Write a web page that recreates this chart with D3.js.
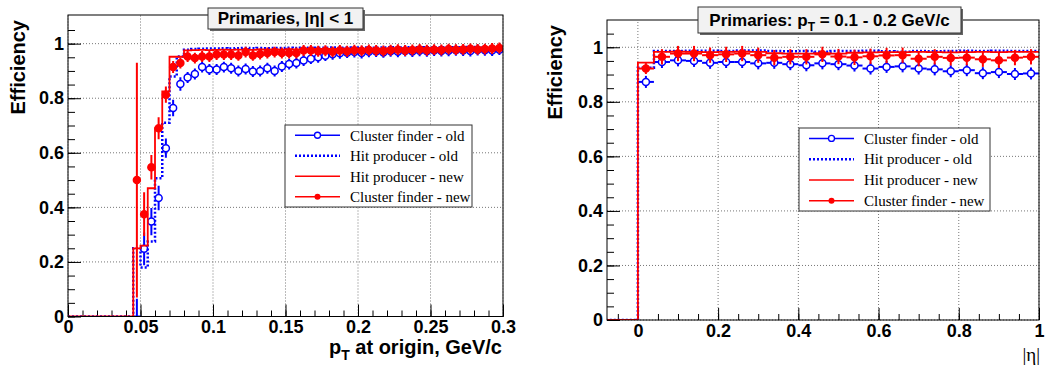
<!DOCTYPE html>
<html>
<head>
<meta charset="utf-8">
<script src="https://cdn.jsdelivr.net/npm/d3@7"></script>
<style>
  body { margin: 0; background: #fff; }
  svg { display: block; }
  text { font-family: "Liberation Sans", Arial, sans-serif; }
</style>
</head>
<body>
<svg id="chart" width="1046" height="366"></svg>
<script>
// ---- left panel: efficiency vs pT, bins of 0.005 GeV/c from 0 ----
const ptBinStart = 0;
const ptBinWidth = 0.005;
const hitNewPt = [0, 0, 0, 0, 0, 0, 0, 0, 0,
  0.25, 0.26, 0.47, 0.69, 0.825, 0.952, 0.952,
  0.975, 0.976, 0.977, 0.976, 0.977, 0.978, 0.977, 0.978, 0.978, 0.977,
  0.979, 0.978, 0.979, 0.978, 0.980, 0.979, 0.980, 0.981, 0.980, 0.981,
  0.980, 0.981, 0.982, 0.981, 0.982, 0.981, 0.982, 0.982, 0.983, 0.982,
  0.983, 0.982, 0.983, 0.983, 0.984, 0.983, 0.984, 0.983, 0.984, 0.984,
  0.985, 0.984, 0.985, 0.984];
const hitOldPt = [0, 0, 0, 0, 0, 0, 0, 0, 0,
  0.25, 0.18, 0.275, 0.507, 0.71, 0.88, 0.953,
  0.978, 0.980, 0.981, 0.982, 0.982, 0.983, 0.982, 0.983, 0.984, 0.983,
  0.984, 0.983, 0.984, 0.984, 0.985, 0.984, 0.985, 0.984, 0.985, 0.985,
  0.986, 0.985, 0.986, 0.985, 0.986, 0.986, 0.985, 0.986, 0.987, 0.986,
  0.986, 0.987, 0.986, 0.987, 0.986, 0.987, 0.987, 0.986, 0.987, 0.988,
  0.987, 0.987, 0.988, 0.987];
const clusterNewPt = [null, null, null, null, null, null, null, null, null,
  0.50, 0.375, 0.547, 0.69, 0.813, 0.914, 0.929,
  0.953, 0.947, 0.953, 0.953, 0.960, 0.960, 0.960, 0.957, 0.969, 0.957,
  0.962, 0.966, 0.969, 0.966, 0.966, 0.966, 0.975, 0.975, 0.972, 0.974,
  0.970, 0.975, 0.972, 0.976, 0.974, 0.977, 0.975, 0.973, 0.976, 0.978,
  0.975, 0.977, 0.979, 0.976, 0.978, 0.977, 0.980, 0.978, 0.979, 0.981,
  0.979, 0.980, 0.982, 0.984];
const clusterNewPtErr = [null, null, null, null, null, null, null, null, null,
  0.43, 0.08, 0.045, 0.04, 0.03, 0.022, 0.02,
  0.02, 0.02, 0.02, 0.02, 0.02, 0.02, 0.02, 0.02, 0.02, 0.02,
  0.02, 0.02, 0.02, 0.02, 0.02, 0.02, 0.02, 0.02, 0.02, 0.02,
  0.02, 0.02, 0.02, 0.02, 0.02, 0.02, 0.02, 0.02, 0.02, 0.02,
  0.02, 0.02, 0.02, 0.02, 0.02, 0.02, 0.02, 0.02, 0.02, 0.02,
  0.02, 0.02, 0.02, 0.02];
const clusterOldPt = [null, null, null, null, null, null, null, null, null,
  0, 0.248, 0.348, 0.434, 0.617, 0.764, 0.852,
  0.876, 0.889, 0.914, 0.905, 0.905, 0.914, 0.910, 0.900, 0.907, 0.898,
  0.900, 0.910, 0.900, 0.916, 0.925, 0.929, 0.938, 0.945, 0.950, 0.956,
  0.961, 0.965, 0.967, 0.969, 0.966, 0.970, 0.971, 0.968, 0.972, 0.970,
  0.973, 0.971, 0.974, 0.972, 0.975, 0.973, 0.974, 0.976, 0.975, 0.973,
  0.977, 0.976, 0.975, 0.978];
const clusterOldPtErr = [null, null, null, null, null, null, null, null, null,
  0.065, 0.06, 0.05, 0.045, 0.035, 0.03, 0.025,
  0.02, 0.02, 0.02, 0.02, 0.02, 0.02, 0.02, 0.02, 0.02, 0.02,
  0.02, 0.02, 0.02, 0.02, 0.02, 0.02, 0.02, 0.02, 0.02, 0.02,
  0.02, 0.02, 0.02, 0.02, 0.02, 0.02, 0.02, 0.02, 0.02, 0.02,
  0.02, 0.02, 0.02, 0.02, 0.02, 0.02, 0.02, 0.02, 0.02, 0.02,
  0.02, 0.02, 0.02, 0.02];

// ---- right panel: efficiency vs |eta|, bins of 0.04 from -0.08 ----
const etaBinStart = -0.08;
const etaBinWidth = 0.04;
const hitNewEta = [0, 0, 0.944,
  0.983, 0.984, 0.983, 0.982, 0.983, 0.984, 0.983, 0.978, 0.977,
  0.977, 0.978, 0.977, 0.980, 0.981, 0.982, 0.982, 0.983, 0.982, 0.981,
  0.982, 0.983, 0.982, 0.983, 0.983];
const hitOldEta = [0, 0, 0.925,
  0.986, 0.986, 0.987, 0.987, 0.986, 0.988, 0.988, 0.986, 0.985,
  0.986, 0.984, 0.986, 0.986, 0.987, 0.985, 0.984, 0.986, 0.985, 0.986,
  0.987, 0.986, 0.987, 0.986, 0.986];
const clusterNewEta = [null, null,
  0.922, 0.965, 0.977, 0.977, 0.971, 0.974, 0.977, 0.971, 0.962, 0.965,
  0.965, 0.974, 0.966, 0.963, 0.967, 0.970, 0.971, 0.958, 0.965, 0.961,
  0.962, 0.956, 0.952, 0.962, 0.965];
const clusterNewEtaErr = [null, null,
  0.02, 0.028, 0.028, 0.028, 0.028, 0.028, 0.028, 0.028, 0.028, 0.028,
  0.028, 0.028, 0.028, 0.028, 0.028, 0.028, 0.028, 0.028, 0.028, 0.028,
  0.028, 0.028, 0.028, 0.028, 0.028];
const clusterOldEta = [null, null,
  0.873, 0.946, 0.952, 0.950, 0.943, 0.946, 0.946, 0.941, 0.943, 0.938,
  0.934, 0.941, 0.938, 0.933, 0.922, 0.928, 0.930, 0.922, 0.919, 0.912,
  0.916, 0.905, 0.909, 0.902, 0.904];
const clusterOldEtaErr = [null, null,
  0.022, 0.022, 0.022, 0.022, 0.022, 0.022, 0.022, 0.022, 0.022, 0.022,
  0.022, 0.022, 0.022, 0.022, 0.022, 0.022, 0.022, 0.022, 0.022, 0.022,
  0.022, 0.022, 0.022, 0.022, 0.022];

// ---- ticks and labels ----
const ptTicks = [0, 0.05, 0.1, 0.15, 0.2, 0.25, 0.3];
const etaTicks = [0, 0.2, 0.4, 0.6, 0.8, 1];
const effTicks = [0, 0.2, 0.4, 0.6, 0.8, 1];
const legendLabels = ["Cluster finder - old", "Hit producer - old", "Hit producer - new", "Cluster finder - new"];

const BLUE = "#0000ff";
const RED = "#ff0000";
const svg = d3.select("#chart");

function binEdges(start, width, n) {
  return d3.range(n + 1).map((i) => start + i * width);
}

function drawHist(g, x, y, edges, values, color, dash, width) {
  const pts = values.map((v, i) => [edges[i], v]);
  pts.push([edges[values.length], values[values.length - 1]]);
  const line = d3.line().x((d) => x(d[0])).y((d) => y(d[1])).curve(d3.curveStepAfter);
  g.append("path").attr("d", line(pts)).attr("fill", "none")
    .attr("stroke", color).attr("stroke-width", width).attr("stroke-dasharray", dash);
}

function drawPoints(g, x, y, edges, values, errs, color, filled) {
  const r = 3.5;
  values.forEach((v, i) => {
    if (v === null) return;
    const cx = x((edges[i] + edges[i + 1]) / 2);
    const cy = y(v);
    const showMarker = v > 0;
    const gap = showMarker ? r : 0;
    const segs = [
      [x(edges[i]), cy, cx - gap, cy],
      [cx + gap, cy, x(edges[i + 1]), cy],
    ];
    if (y(v - errs[i]) - cy > gap) {
      segs.push([cx, y(v + errs[i]), cx, cy - gap]);
      segs.push([cx, cy + gap, cx, y(v - errs[i])]);
    }
    segs.forEach((s) => {
      g.append("line").attr("x1", s[0]).attr("y1", s[1]).attr("x2", s[2]).attr("y2", s[3])
        .attr("stroke", color).attr("stroke-width", 2);
    });
    if (showMarker) {
      g.append("circle").attr("cx", cx).attr("cy", cy).attr("r", r)
        .attr("fill", filled ? color : "none").attr("stroke", color).attr("stroke-width", 1.5);
    }
  });
}

function drawLegend(box) {
  const g = svg.append("g");
  g.append("rect").attr("x", box.x).attr("y", box.y).attr("width", box.w).attr("height", box.h)
    .attr("fill", "#fff").attr("stroke", "#333").attr("stroke-width", 1);
  const row = box.h / 4;
  legendLabels.forEach((label, i) => {
    const cy = box.y + row * (i + 0.5);
    const lx0 = box.x + 10, lx1 = box.x + 55;
    const color = i < 2 ? BLUE : RED;
    const line = g.append("line").attr("x1", lx0).attr("x2", lx1).attr("y1", cy).attr("y2", cy)
      .attr("stroke", color).attr("stroke-width", i === 1 ? 2.5 : 1.5);
    if (i === 1) line.attr("stroke-dasharray", "2 2");
    if (i === 0) g.append("circle").attr("cx", (lx0 + lx1) / 2).attr("cy", cy).attr("r", 3)
      .attr("fill", "#fff").attr("stroke", BLUE).attr("stroke-width", 1.3);
    if (i === 3) g.append("circle").attr("cx", (lx0 + lx1) / 2).attr("cy", cy).attr("r", 3).attr("fill", RED);
    g.append("text").attr("x", box.x + 65).attr("y", cy).attr("dy", "0.35em")
      .style("font-family", '"Liberation Serif", "Times New Roman", serif').style("font-size", "15px")
      .text(label);
  });
}

function drawTitle(cx, y, w, h, build) {
  const g = svg.append("g");
  g.append("rect").attr("x", cx - w / 2 + 2).attr("y", y + 2).attr("width", w).attr("height", h).attr("fill", "#666");
  g.append("rect").attr("x", cx - w / 2).attr("y", y).attr("width", w).attr("height", h)
    .attr("fill", "#f2f2f2").attr("stroke", "#333").attr("stroke-width", 1);
  const t = g.append("text").attr("x", cx).attr("y", y + h / 2).attr("dy", "0.35em")
    .attr("text-anchor", "middle").style("font-size", "17px").style("font-weight", "bold");
  build(t);
}

function drawPanel(p) {
  const g = svg.append("g");
  const [x0, x1] = p.x.range();
  const [y0, y1] = p.y.range();

  g.append("clipPath").attr("id", p.id).append("rect")
    .attr("x", x0).attr("y", y1).attr("width", x1 - x0).attr("height", y0 - y1);

  // grid
  g.append("g").selectAll("line").data(p.xTicks).join("line")
    .attr("x1", (d) => p.x(d)).attr("x2", (d) => p.x(d)).attr("y1", y0).attr("y2", y1)
    .attr("stroke", "#777").attr("stroke-dasharray", "1 2");
  g.append("g").selectAll("line").data(effTicks).join("line")
    .attr("x1", x0).attr("x2", x1).attr("y1", (d) => p.y(d)).attr("y2", (d) => p.y(d))
    .attr("stroke", "#777").attr("stroke-dasharray", "1 2");

  // minor + major ticks, pointing inward
  const styleAxis = (axis) => {
    axis.select(".domain").remove();
    axis.selectAll("line").attr("stroke", "#000");
    axis.selectAll("text").attr("fill", "#000").style("font-size", "18px").style("font-weight", "bold")
      .style("font-family", '"Liberation Sans", Arial, sans-serif');
  };
  g.append("g").attr("transform", `translate(0,${y0})`)
    .call(d3.axisBottom(p.x).tickValues(p.xMinor).tickSize(-6).tickFormat(""))
    .call(styleAxis);
  g.append("g").attr("transform", `translate(0,${y0})`)
    .call(d3.axisBottom(p.x).tickValues(p.xTicks).tickSize(-12).tickPadding(4).tickFormat((d) => String(d)))
    .call(styleAxis);
  g.append("g").attr("transform", `translate(${x0},0)`)
    .call(d3.axisLeft(p.y).tickValues(d3.range(0, 1.1, 0.05)).tickSize(-7).tickFormat(""))
    .call(styleAxis);
  g.append("g").attr("transform", `translate(${x0},0)`)
    .call(d3.axisLeft(p.y).tickValues(effTicks).tickSize(-13).tickPadding(4).tickFormat((d) => String(d)))
    .call(styleAxis);

  // data
  const plot = g.append("g").attr("clip-path", `url(#${p.id})`);
  drawPoints(plot, p.x, p.y, p.edges, p.clusterOld, p.clusterOldErr, BLUE, false);
  drawHist(plot, p.x, p.y, p.edges, p.hitOld, BLUE, "2 2", 2.5);
  drawHist(plot, p.x, p.y, p.edges, p.hitNew, RED, null, 1.8);
  drawPoints(plot, p.x, p.y, p.edges, p.clusterNew, p.clusterNewErr, RED, true);

  // frame
  g.append("rect").attr("x", x0).attr("y", y1).attr("width", x1 - x0).attr("height", y0 - y1)
    .attr("fill", "none").attr("stroke", "#000").attr("stroke-width", 1);

  // y title
  svg.append("text").attr("transform", `translate(${p.yTitleX},${y1 + 5}) rotate(-90)`)
    .attr("text-anchor", "end").style("font-size", "20px").style("font-weight", "bold").text("Efficiency");
}

// left panel
const xPt = d3.scaleLinear().domain([0, 0.3]).range([68, 503]);
const yPt = d3.scaleLinear().domain([0, 1.105]).range([316.5, 15]);
drawPanel({
  id: "clipPt", x: xPt, y: yPt, xTicks: ptTicks, xMinor: d3.range(0, 0.3001, 0.01),
  edges: binEdges(ptBinStart, ptBinWidth, hitNewPt.length),
  hitNew: hitNewPt, hitOld: hitOldPt,
  clusterNew: clusterNewPt, clusterNewErr: clusterNewPtErr,
  clusterOld: clusterOldPt, clusterOldErr: clusterOldPtErr,
  yTitleX: 25,
});
drawLegend({ x: 285, y: 125, w: 187, h: 82 });
drawTitle(285.5, 8, 155, 21, (t) => {
  t.append("tspan").text("Primaries, |η| < 1");
});
const ptTitle = svg.append("text").attr("x", 502).attr("y", 354).attr("text-anchor", "end")
  .style("font-size", "20px").style("font-weight", "bold");
ptTitle.append("tspan").text("p");
ptTitle.append("tspan").attr("dy", 6).style("font-size", "14px").text("T");
ptTitle.append("tspan").attr("dy", -6).text(" at origin, GeV/c");

// right panel
const xEta = d3.scaleLinear().domain([-0.077, 1]).range([607, 1039]);
const yEta = d3.scaleLinear().domain([0, 1.1]).range([320, 20]);
drawPanel({
  id: "clipEta", x: xEta, y: yEta, xTicks: etaTicks, xMinor: d3.range(-0.05, 1.001, 0.05),
  edges: binEdges(etaBinStart, etaBinWidth, hitNewEta.length),
  hitNew: hitNewEta, hitOld: hitOldEta,
  clusterNew: clusterNewEta, clusterNewErr: clusterNewEtaErr,
  clusterOld: clusterOldEta, clusterOldErr: clusterOldEtaErr,
  yTitleX: 562,
});
drawLegend({ x: 799, y: 128, w: 191, h: 83 });
drawTitle(829.5, 7, 263, 26, (t) => {
  t.append("tspan").text("Primaries: p");
  t.append("tspan").attr("dy", 5).style("font-size", "12px").text("T");
  t.append("tspan").attr("dy", -5).text(" = 0.1 - 0.2 GeV/c");
});
svg.append("text").attr("x", 1040).attr("y", 361).attr("text-anchor", "end")
  .style("font-family", '"Liberation Serif", "Times New Roman", serif').style("font-size", "19px")
  .text("|η|");
</script>
</body>
</html>
